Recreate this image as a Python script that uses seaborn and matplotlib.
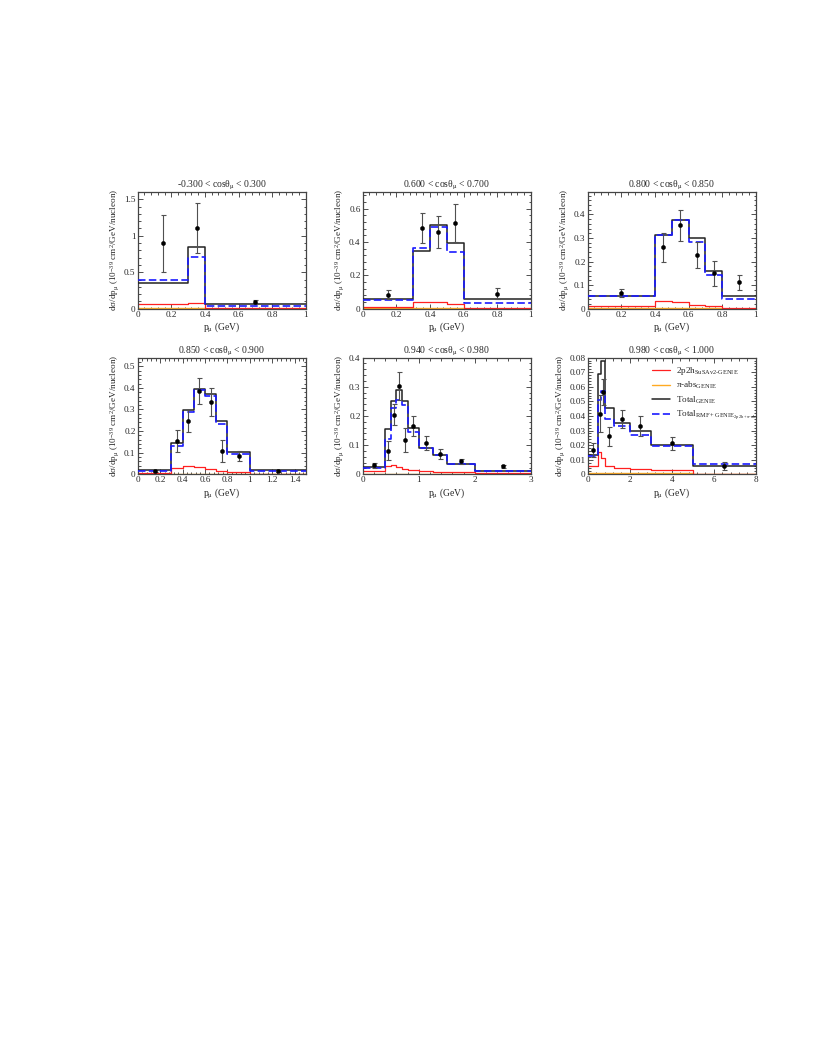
import numpy as np
import seaborn as sns
import matplotlib
matplotlib.use("Agg")
import matplotlib.pyplot as plt
from matplotlib.lines import Line2D
from matplotlib.ticker import MultipleLocator, AutoMinorLocator, FuncFormatter

# ---- panel data ----
titles = ['-0.300 < cos$\\theta_{\\mu}$ < 0.300', '0.600 < cos$\\theta_{\\mu}$ < 0.700',
          '0.800 < cos$\\theta_{\\mu}$ < 0.850', '0.850 < cos$\\theta_{\\mu}$ < 0.900',
          '0.940 < cos$\\theta_{\\mu}$ < 0.980', '0.980 < cos$\\theta_{\\mu}$ < 1.000']

# -0.3 < cos < 0.3
p1_edges = [0, 0.3, 0.4, 1.0]
p1_genie = [0.356, 0.845, 0.058]
p1_rmf = [0.39, 0.71, 0.037]
p1_2p2h = [0.064, 0.075, 0.01]
p1_piabs = [0.012, 0.01, 0.002]
p1_x = [0.15, 0.35, 0.7]
p1_y = [0.90, 1.11, 0.095]
p1_err = [0.39, 0.34, 0.03]

# 0.6 < cos < 0.7
p2_edges = [0, 0.3, 0.4, 0.5, 0.6, 1.0]
p2_genie = [0.056, 0.344, 0.504, 0.396, 0.056]
p2_rmf = [0.053, 0.366, 0.49, 0.34, 0.037]
p2_2p2h = [0.012, 0.042, 0.038, 0.026, 0.004]
p2_piabs = [0.005, 0.004, 0.003, 0.002, 0.001]
p2_x = [0.15, 0.35, 0.45, 0.55, 0.8]
p2_y = [0.084, 0.486, 0.46, 0.516, 0.09]
p2_err = [0.027, 0.09, 0.095, 0.115, 0.033]

# 0.8 < cos < 0.85
p3_edges = [0, 0.4, 0.5, 0.6, 0.7, 0.8, 1.0]
p3_genie = [0.055, 0.313, 0.378, 0.30, 0.162, 0.053]
p3_rmf = [0.055, 0.313, 0.375, 0.284, 0.143, 0.043]
p3_2p2h = [0.011, 0.032, 0.027, 0.017, 0.01, 0.005]
p3_piabs = [0.003, 0.003, 0.003, 0.002, 0.001, 0.0005]
p3_x = [0.2, 0.45, 0.55, 0.65, 0.75, 0.9]
p3_y = [0.066, 0.261, 0.353, 0.227, 0.151, 0.112]
p3_err = [0.016, 0.062, 0.064, 0.054, 0.053, 0.031]

# 0.85 < cos < 0.9
p4_edges = [0, 0.3, 0.4, 0.5, 0.6, 0.7, 0.8, 1.0, 1.5]
p4_genie = [0.02, 0.144, 0.298, 0.393, 0.372, 0.245, 0.102, 0.02]
p4_rmf = [0.015, 0.13, 0.29, 0.388, 0.362, 0.231, 0.093, 0.015]
p4_2p2h = [0.005, 0.029, 0.037, 0.032, 0.024, 0.017, 0.009, 0.003]
p4_piabs = [0.002, 0.002, 0.002, 0.002, 0.001, 0.001, 0.001, 0.0005]
p4_x = [0.15, 0.35, 0.45, 0.55, 0.65, 0.75, 0.9, 1.25]
p4_y = [0.014, 0.154, 0.248, 0.384, 0.336, 0.107, 0.084, 0.017]
p4_err = [0.004, 0.05, 0.05, 0.061, 0.064, 0.05, 0.024, 0.005]

# 0.94 < cos < 0.98
p5_edges = [0, 0.4, 0.5, 0.6, 0.7, 0.8, 1.0, 1.25, 1.5, 2.0, 3.0]
p5_genie = [0.024, 0.156, 0.25, 0.29, 0.25, 0.158, 0.091, 0.066, 0.035, 0.012]
p5_rmf = [0.022, 0.122, 0.227, 0.256, 0.236, 0.144, 0.091, 0.065, 0.034, 0.011]
p5_2p2h = [0.01, 0.027, 0.031, 0.025, 0.019, 0.015, 0.011, 0.009, 0.007, 0.003]
p5_piabs = [0.002, 0.002, 0.002, 0.002, 0.002, 0.001, 0.001, 0.001, 0.001, 0.0005]
p5_x = [0.2, 0.45, 0.55, 0.65, 0.75, 0.9, 1.125, 1.375, 1.75, 2.5]
p5_y = [0.031, 0.081, 0.204, 0.304, 0.117, 0.166, 0.106, 0.071, 0.044, 0.027]
p5_err = [0.008, 0.033, 0.036, 0.048, 0.04, 0.035, 0.024, 0.017, 0.008, 0.005]

# 0.98 < cos < 1.0
p6_edges = [0, 0.5, 0.65, 0.8, 1.25, 2.0, 3.0, 5.0, 8.0]
p6_genie = [0.0134, 0.069, 0.078, 0.0457, 0.0355, 0.0299, 0.0198, 0.0055]
p6_rmf = [0.0125, 0.051, 0.057, 0.038, 0.0328, 0.0272, 0.0194, 0.0073]
p6_2p2h = [0.0057, 0.0152, 0.0113, 0.0055, 0.0044, 0.0037, 0.0027, 0.0005]
p6_piabs = [0.0012, 0.0012, 0.0012, 0.0012, 0.0011, 0.001, 0.0008, 0.0003]
p6_x = [0.25, 0.575, 0.725, 1.025, 1.625, 2.5, 4.0, 6.5]
p6_y = [0.0167, 0.0416, 0.0566, 0.0262, 0.0379, 0.0333, 0.0212, 0.0057]
p6_err = [0.0048, 0.0125, 0.009, 0.0065, 0.0063, 0.007, 0.0046, 0.0025]

# axis setup per panel
ymax_list = [1.6, 0.7, 0.495, 0.54, 0.4, 0.08]
ystep_list = [0.5, 0.2, 0.1, 0.1, 0.1, 0.01]
xstep_list = [0.2, 0.2, 0.2, 0.2, 1, 2]

legend_labels = ['2p2h$_{\\mathrm{SuSAv2\\text{-}GENIE}}$',
                 '$\\pi$-abs$_{\\mathrm{GENIE}}$',
                 'Total$_{\\mathrm{GENIE}}$',
                 'Total$_{\\mathrm{RMF+GENIE}_{\\mathrm{2p2h+\\pi\\text{-}abs}}}$']

panels = [
    (p1_edges, p1_genie, p1_rmf, p1_2p2h, p1_piabs, p1_x, p1_y, p1_err),
    (p2_edges, p2_genie, p2_rmf, p2_2p2h, p2_piabs, p2_x, p2_y, p2_err),
    (p3_edges, p3_genie, p3_rmf, p3_2p2h, p3_piabs, p3_x, p3_y, p3_err),
    (p4_edges, p4_genie, p4_rmf, p4_2p2h, p4_piabs, p4_x, p4_y, p4_err),
    (p5_edges, p5_genie, p5_rmf, p5_2p2h, p5_piabs, p5_x, p5_y, p5_err),
    (p6_edges, p6_genie, p6_rmf, p6_2p2h, p6_piabs, p6_x, p6_y, p6_err),
]

sns.set_theme(style="ticks")
plt.rcParams['font.family'] = ['Liberation Serif', 'DejaVu Serif']
plt.rcParams['mathtext.fontset'] = 'custom'
plt.rcParams['mathtext.rm'] = 'Liberation Serif'
plt.rcParams['mathtext.it'] = 'Liberation Serif'
plt.rcParams['mathtext.bf'] = 'Liberation Serif:bold'
plt.rcParams['mathtext.default'] = 'regular'

RED, ORANGE, BLACK, BLUE = '#ff2020', '#ffaa22', '#222222', '#1a1aff'
fs = 6.6


def step(ax, edges, vals, **kw):
    # histogram outline through seaborn (steps-post, last value repeated at the right edge)
    sns.lineplot(x=edges, y=list(vals) + [vals[-1]], drawstyle='steps-post',
                 estimator=None, ax=ax, **kw)


fig = plt.figure(figsize=(8.17, 10.58), dpi=100)
W, H = 817, 1058
lefts = [137.7, 362.7, 587.7]
bottoms = [308.7, 474.3]
aw, ah = 168, 116.7

for i, (edges, genie, rmf, mec, piabs, dx, dy, de) in enumerate(panels):
    r, c = divmod(i, 3)
    ax = fig.add_axes([lefts[c] / W, 1 - bottoms[r] / H, aw / W, ah / H])

    step(ax, edges, piabs, color=ORANGE, linewidth=1.0, zorder=2)
    step(ax, edges, mec, color=RED, linewidth=0.9, zorder=2)
    step(ax, edges, genie, color=BLACK, linewidth=1.1, zorder=3)
    step(ax, edges, rmf, color=BLUE, linewidth=1.2, linestyle=(0, (4.5, 2)), zorder=4)

    ax.errorbar(dx, dy, yerr=de, fmt='none', ecolor='#505050', elinewidth=0.8,
                capsize=1.8, capthick=0.8, zorder=5)
    sns.scatterplot(x=dx, y=dy, color='black', s=9, edgecolor='black', linewidth=0.3,
                    ax=ax, zorder=6)

    ax.set_xlim(edges[0], edges[-1])
    ax.set_ylim(0, ymax_list[i])
    ax.xaxis.set_major_locator(MultipleLocator(xstep_list[i]))
    ax.yaxis.set_major_locator(MultipleLocator(ystep_list[i]))
    ax.xaxis.set_minor_locator(AutoMinorLocator(5))
    ax.yaxis.set_minor_locator(AutoMinorLocator(5))
    fmt = FuncFormatter(lambda v, p: f'{round(v, 6):g}')
    ax.xaxis.set_major_formatter(fmt)
    ax.yaxis.set_major_formatter(fmt)
    ax.tick_params(which='both', direction='in', top=True, right=True,
                   labelsize=fs, pad=1.5, width=0.6, color='#333333')
    ax.tick_params(which='major', length=3.5)
    ax.tick_params(which='minor', length=1.8)
    for s in ax.spines.values():
        s.set_linewidth(0.9)
        s.set_color('#444444')

    ax.set_title(titles[i], fontsize=fs + 0.3, pad=3)
    ax.set_xlabel('p$_{\\mu}$ (GeV)', fontsize=fs + 0.3, labelpad=1)
    ax.set_ylabel('d$\\sigma$/dp$_{\\mu}$ (10$^{-39}$ cm$^{2}$/GeV/nucleon)',
                  fontsize=fs, labelpad=2)

    if i == 5:
        handles = [Line2D([], [], color=RED, linewidth=0.9),
                   Line2D([], [], color=ORANGE, linewidth=1.0),
                   Line2D([], [], color=BLACK, linewidth=1.1),
                   Line2D([], [], color=BLUE, linewidth=1.2, linestyle=(0, (4.5, 2)))]
        ax.legend(handles, legend_labels, loc='upper left', bbox_to_anchor=(0.36, 0.97),
                  frameon=False, fontsize=fs, handlelength=2.0, handletextpad=0.6,
                  labelspacing=0.35, borderaxespad=0)

fig.savefig('out.png', dpi=100)
